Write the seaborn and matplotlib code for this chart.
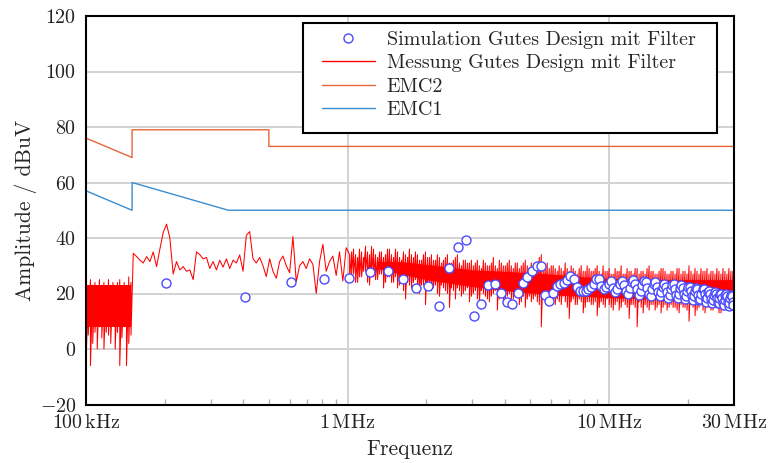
import numpy as np
import matplotlib
matplotlib.use("Agg")
import matplotlib.pyplot as plt
import seaborn as sns
from matplotlib.lines import Line2D
from matplotlib.patches import Rectangle
from matplotlib.ticker import LogLocator, NullFormatter

# ---------------- data ----------------
# Limit lines (frequency in MHz, level in dBuV)
emc2_freq = [0.1, 0.15, 0.15, 0.5, 0.5, 30.0]
emc2_level = [76, 69, 79, 79, 73, 73]
emc1_freq = [0.1, 0.15, 0.15, 0.35, 30.0]
emc1_level = [57, 50, 60, 50, 50]

# Simulated spectrum at the switching harmonics (MHz, dBuV)
sim_freq = [
    0.203, 0.406, 0.609, 0.812, 1.015, 1.218, 1.421, 1.624, 1.827, 2.030,
    2.233, 2.436, 2.639, 2.842, 3.045, 3.248, 3.451, 3.654, 3.857, 4.060,
    4.263, 4.466, 4.669, 4.872, 5.075, 5.278, 5.481, 5.684, 5.887, 6.090,
    6.293, 6.496, 6.699, 6.902, 7.105, 7.308, 7.511, 7.714, 7.917, 8.120,
    8.323, 8.526, 8.729, 8.932, 9.135, 9.338, 9.541, 9.744, 9.947, 10.150,
    10.353, 10.556, 10.759, 10.962, 11.165, 11.368, 11.571, 11.774, 11.977, 12.180,
    12.383, 12.586, 12.789, 12.992, 13.195, 13.398, 13.601, 13.804, 14.007, 14.210,
    14.413, 14.616, 14.819, 15.022, 15.225, 15.428, 15.631, 15.834, 16.037, 16.240,
    16.443, 16.646, 16.849, 17.052, 17.255, 17.458, 17.661, 17.864, 18.067, 18.270,
    18.473, 18.676, 18.879, 19.082, 19.285, 19.488, 19.691, 19.894, 20.097, 20.300,
    20.503, 20.706, 20.909, 21.112, 21.315, 21.518, 21.721, 21.924, 22.127, 22.330,
    22.533, 22.736, 22.939, 23.142, 23.345, 23.548, 23.751, 23.954, 24.157, 24.360,
    24.563, 24.766, 24.969, 25.172, 25.375, 25.578, 25.781, 25.984, 26.187, 26.390,
    26.593, 26.796, 26.999, 27.202, 27.405, 27.608, 27.811, 28.014, 28.217, 28.420,
    28.623, 28.826, 29.029, 29.232, 29.435, 29.638, 29.841,
]
sim_level = [
    23.9, 18.7, 24.0, 25.1, 25.7, 27.7, 28.2, 25.2, 22.1, 22.6,
    15.5, 29.1, 36.6, 39.2, 12.0, 16.1, 23.2, 23.4, 20.3, 16.9,
    16.1, 20.3, 23.7, 25.8, 28.0, 30.0, 30.0, 19.3, 17.4, 20.1,
    22.7, 23.4, 23.7, 24.9, 26.4, 25.3, 22.5, 20.8, 20.8, 21.0,
    21.5, 22.5, 23.4, 25.1, 25.1, 22.7, 21.5, 22.5, 23.5, 24.5,
    22.0, 20.5, 21.5, 23.5, 24.5, 23.0, 21.0, 20.0, 22.0, 24.0,
    25.0, 23.5, 21.5, 19.5, 21.0, 23.0, 24.5, 24.0, 22.0, 20.0,
    19.0, 21.5, 23.5, 24.0, 22.5, 20.5, 19.0, 20.5, 22.5, 23.5,
    22.5, 20.5, 18.5, 19.5, 21.5, 23.0, 23.5, 21.5, 19.5, 18.5,
    20.0, 22.0, 23.0, 22.0, 20.0, 18.0, 19.0, 21.0, 22.5, 22.5,
    21.0, 19.0, 17.5, 19.0, 21.0, 22.0, 21.5, 19.5, 17.5, 18.0,
    20.0, 21.5, 21.5, 20.0, 18.0, 17.0, 18.5, 20.5, 21.0, 20.0,
    18.0, 16.5, 17.5, 19.5, 20.5, 20.0, 18.5, 16.5, 16.5, 18.5,
    20.0, 20.0, 18.5, 16.5, 16.0, 17.5, 19.5, 20.0, 19.0, 17.0,
    15.5, 16.5, 18.5, 19.5, 19.0, 17.0, 16.0,
]

# Measured spectrum, low band below 150 kHz: peak / trough per sweep bin
meas_low_freq = [0.1000, 0.1020, 0.1040, 0.1061, 0.1082, 0.1104, 0.1126, 0.1149,
                 0.1171, 0.1195, 0.1219, 0.1243, 0.1268, 0.1293, 0.1319, 0.1346,
                 0.1372, 0.1400, 0.1428, 0.1457, 0.1486]
meas_low_hi = [24, 22, 25, 23, 24, 21, 25, 23, 24, 22, 25, 23, 24, 21, 24, 25,
               22, 24, 23, 26, 24]
meas_low_lo = [-6, 5, -6, 2, 6, 0, 8, 4, 0, 6, 5, 2, 10, 0, 6, -6, 4, 8, -6, 2, 5]

# Measured spectrum 150 kHz .. 1 MHz (single trace)
meas_mid_freq = [
    0.1516, 0.1561, 0.1608, 0.1655, 0.1705, 0.1755, 0.1807, 0.1861, 0.1916, 0.1973,
    0.2032, 0.2092, 0.2154, 0.2218, 0.2284, 0.2352, 0.2422, 0.2494, 0.2568, 0.2644,
    0.2723, 0.2804, 0.2887, 0.2973, 0.3061, 0.3152, 0.3246, 0.3342, 0.3441, 0.3544,
    0.3649, 0.3757, 0.3869, 0.3984, 0.4102, 0.4224, 0.4350, 0.4479, 0.4612, 0.4749,
    0.4890, 0.5035, 0.5185, 0.5339, 0.5498, 0.5661, 0.5829, 0.6003, 0.6181, 0.6365,
    0.6554, 0.6749, 0.6949, 0.7156, 0.7369, 0.7588, 0.7813, 0.8045, 0.8284, 0.8530,
    0.8784, 0.9045, 0.9314, 0.9590, 0.9876,
]
meas_mid_level = [
    34.5, 33.3, 32.0, 31.0, 33.3, 31.5, 35.0, 29.7, 36.0, 42.0,
    45.0, 40.0, 27.0, 31.5, 28.5, 29.7, 28.0, 28.5, 25.0, 35.0,
    34.0, 32.5, 33.0, 29.0, 31.5, 28.5, 32.0, 29.5, 32.5, 29.0,
    32.0, 31.0, 33.9, 28.0, 41.0, 42.3, 32.5, 31.0, 33.0, 30.0,
    26.1, 32.5, 28.0, 25.5, 31.5, 33.5, 30.0, 27.5, 40.5, 24.3,
    30.0, 31.5, 29.0, 32.5, 30.5, 20.0, 31.5, 37.7, 28.0, 31.5,
    33.5, 26.5, 35.0, 24.5, 36.5,
]

# Measured spectrum 1 MHz .. 30 MHz: peak / trough per sweep bin (first pass)
meas_high_freq = [
    1.018, 1.054, 1.092, 1.131, 1.171, 1.213, 1.257, 1.302, 1.348, 1.396,
    1.446, 1.498, 1.552, 1.607, 1.665, 1.724, 1.786, 1.850, 1.916, 1.985,
    2.056, 2.129, 2.205, 2.284, 2.366, 2.451, 2.538, 2.629, 2.723, 2.821,
    2.922, 3.026, 3.134, 3.247, 3.363, 3.483, 3.608, 3.737, 3.870, 4.009,
    4.152, 4.301, 4.455, 4.614, 4.779, 4.950, 5.127, 5.311, 5.501, 5.697,
    5.901, 6.112, 6.331, 6.558, 6.792, 7.035, 7.287, 7.548, 7.818, 8.097,
    8.387, 8.687, 8.998, 9.320, 9.653, 9.999, 10.357, 10.727, 11.111, 11.509,
    11.920, 12.347, 12.789, 13.246, 13.720, 14.211, 14.719, 15.246, 15.791, 16.356,
    16.941, 17.547, 18.175, 18.825, 19.498, 20.195, 20.918, 21.666, 22.441, 23.244,
    24.075, 24.936, 25.828, 26.752, 27.709, 28.700, 29.727,
]
meas_high_hi = [
    34, 36, 33, 35, 37, 34, 36, 33, 35, 34,
    36, 33, 35, 32, 34, 36, 33, 34, 32, 35,
    33, 32, 34, 31, 33, 31, 32, 34, 30, 32,
    31, 30, 32, 29, 31, 30, 33, 29, 31, 30,
    32, 29, 31, 30, 32, 29, 30, 31, 34, 30,
    29, 30, 28, 29, 31, 28, 29, 27, 30, 28,
    29, 28, 30, 27, 28, 29, 27, 28, 30, 27,
    28, 27, 29, 28, 27, 30, 28, 27, 29, 28,
    27, 28, 29, 27, 28, 30, 27, 28, 29, 28,
    27, 28, 29, 27, 28, 29, 28,
]
meas_high_lo = [
    25, 27, 24, 26, 28, 23, 26, 25, 27, 24,
    26, 24, 22, 25, 18, 23, 24, 21, 23, 16,
    22, 22, 20, 23, 21, 15, 21, 22, 19, 21,
    17, 20, 18, 21, 19, 17, 20, 14, 19, 18,
    20, 18, 19, 17, 15, 19, 18, 17, 8, 18,
    16, 17, 18, 16, 17, 11, 18, 16, 17, 15,
    17, 16, 12, 17, 15, 16, 14, 17, 15, 16,
    11, 16, 8, 15, 16, 14, 16, 15, 13, 16,
    15, 15, 14, 16, 15, 10, 15, 14, 16, 13,
    15, 14, 15, 13, 15, 14, 15,
]

# Measured spectrum 1 MHz .. 30 MHz: bins in between (second pass)
meas_high2_freq = [
    1.036, 1.073, 1.111, 1.151, 1.192, 1.235, 1.279, 1.325, 1.372, 1.421,
    1.472, 1.525, 1.580, 1.636, 1.695, 1.755, 1.818, 1.883, 1.950, 2.020,
    2.092, 2.167, 2.244, 2.325, 2.408, 2.494, 2.583, 2.676, 2.771, 2.871,
    2.974, 3.080, 3.190, 3.305, 3.423, 3.545, 3.672, 3.803, 3.939, 4.080,
    4.226, 4.377, 4.534, 4.696, 4.864, 5.038, 5.218, 5.405, 5.599, 5.798,
    6.006, 6.220, 6.443, 6.674, 6.913, 7.160, 7.416, 7.682, 7.957, 8.241,
    8.536, 8.841, 9.158, 9.485, 9.824, 10.176, 10.541, 10.917, 11.308, 11.713,
    12.131, 12.566, 13.016, 13.481, 13.963, 14.463, 14.980, 15.516, 16.071, 16.646,
    17.242, 17.858, 18.497, 19.159, 19.844, 20.553, 21.289, 22.050, 22.839, 23.656,
    24.502, 25.378, 26.286, 27.227, 28.200, 29.209,
]
meas_high2_hi = [
    35, 34, 36, 33, 35, 37, 34, 35, 33, 36,
    34, 36, 33, 35, 33, 34, 35, 32, 34, 33,
    34, 32, 33, 32, 34, 31, 33, 31, 32, 31,
    32, 31, 30, 32, 30, 31, 30, 32, 30, 31,
    30, 31, 29, 31, 30, 31, 29, 33, 30, 31,
    30, 29, 30, 28, 29, 30, 28, 29, 28, 30,
    28, 29, 28, 30, 28, 27, 29, 28, 27, 29,
    28, 29, 27, 28, 29, 28, 27, 28, 29, 27,
    28, 27, 29, 28, 27, 28, 29, 27, 28, 29,
    28, 27, 28, 29, 27, 28,
]
meas_high2_lo = [
    27, 24, 26, 28, 24, 27, 25, 27, 22, 26,
    24, 26, 23, 21, 24, 22, 25, 20, 23, 22,
    21, 23, 19, 22, 20, 22, 18, 21, 20, 22,
    19, 21, 17, 20, 18, 19, 21, 18, 17, 19,
    18, 20, 16, 19, 18, 17, 19, 16, 18, 17,
    18, 16, 17, 19, 15, 17, 16, 18, 13, 17,
    16, 17, 15, 16, 18, 15, 16, 14, 17, 15,
    16, 15, 17, 13, 15, 16, 14, 16, 15, 14,
    16, 15, 13, 15, 14, 16, 12, 15, 14, 15,
    14, 15, 13, 14, 15, 14,
]

# Densely occupied part of the measured trace (solid red region)
meas_core_freq = [0.1, 0.1486, None, 1.3, 1.6, 2.0, 3.0, 4.0, 6.0, 8.0, 10.0,
                  15.0, 20.0, 29.727]
meas_core_hi = [23, 23, None, 31.5, 31.5, 30.5, 28.5, 28, 27, 26, 25.5, 25, 25, 25]
meas_core_lo = [8, 8, None, 29, 27, 25, 22.5, 21, 19.5, 19, 18.5, 18, 17.5, 17]

LABELS = ["Simulation Gutes Design mit Filter", "Messung Gutes Design mit Filter",
          "EMC2", "EMC1"]
TICK_FREQ = [0.1, 1, 10, 30]
TICK_TEXT = [r"$100\,\mathrm{kHz}$", r"$1\,\mathrm{MHz}$", r"$10\,\mathrm{MHz}$",
             r"$30\,\mathrm{MHz}$"]

# ---------------- style ----------------
sns.set_theme(style="white")
plt.rcParams.update({
    "font.family": "serif",
    "font.serif": ["cmr10"],
    "mathtext.fontset": "cm",
    "axes.formatter.use_mathtext": True,
    "axes.unicode_minus": True,
})

C_MEAS = "#ff0000"
C_SIM = "#4a4aff"
C_EMC2 = "#e6643c"
C_EMC1 = "#3c8dcf"
FS = 14.4
FS_LABEL = 15.5

fig = plt.figure(figsize=(7.69, 4.63), dpi=100)
ax = fig.add_axes([86 / 769, 1 - 404.5 / 463, 648 / 769, 388.5 / 463])


def zigzag(freq, hi, lo):
    f = np.repeat(np.asarray(freq, float), 2)
    v = np.column_stack([hi, lo]).ravel().astype(float)
    return f, v


# merge both passes of the upper band in frequency order
hf = np.concatenate([meas_high_freq, meas_high2_freq])
order = np.argsort(hf)
hh = np.concatenate([meas_high_hi, meas_high2_hi])[order]
hl = np.concatenate([meas_high_lo, meas_high2_lo])[order]
hf = hf[order]

fa, va = zigzag(meas_low_freq, meas_low_hi, meas_low_lo)
fc, vc = zigzag(hf, hh, hl)
meas_f = np.concatenate([fa, meas_mid_freq, fc])
meas_v = np.concatenate([va, meas_mid_level, vc])

# solid core of the measured trace, drawn per segment
gap = meas_core_freq.index(None)
for sl in (slice(0, gap), slice(gap + 1, None)):
    ax.fill_between(meas_core_freq[sl], meas_core_lo[sl], meas_core_hi[sl],
                    color=C_MEAS, lw=0, zorder=2)
sns.lineplot(x=meas_f, y=meas_v, sort=False, estimator=None, color=C_MEAS,
             lw=0.75, ax=ax, zorder=2)

sns.lineplot(x=emc2_freq, y=emc2_level, sort=False, estimator=None, color=C_EMC2,
             lw=1.0, ax=ax, zorder=3)
sns.lineplot(x=emc1_freq, y=emc1_level, sort=False, estimator=None, color=C_EMC1,
             lw=1.0, ax=ax, zorder=3)

sns.scatterplot(x=sim_freq, y=sim_level, marker="o", s=42, facecolor="white",
                edgecolor=C_SIM, linewidth=1.0, ax=ax, zorder=4)

# ---------------- axes ----------------
ax.set_xscale("log")
ax.set_xlim(0.1, 30)
ax.set_ylim(-20, 120)
ax.set_yticks(range(-20, 121, 20))
ax.set_xticks(TICK_FREQ)
ax.set_xticklabels(TICK_TEXT)
ax.xaxis.set_minor_locator(LogLocator(base=10, subs=np.arange(2, 10)))
ax.xaxis.set_minor_formatter(NullFormatter())
ax.tick_params(axis="both", which="major", length=0, labelsize=FS, pad=7,
               colors="#222222")
ax.tick_params(axis="x", which="minor", direction="in", length=4, width=1,
               color="#b0b0b0", bottom=True, top=False)
ax.grid(True, which="major", color="#d2d2d2", lw=1.4)
ax.grid(False, which="minor")
ax.set_axisbelow(True)
for sp in ax.spines.values():
    sp.set_color("black")
    sp.set_linewidth(1.5)
    sp.set_zorder(6)

ax.set_xlabel("Frequenz", fontsize=FS_LABEL, labelpad=5)
ax.set_ylabel("Amplitude / dBuV", fontsize=FS_LABEL, labelpad=2)

# legend: frame drawn as its own box, entries placed inside it
box = Rectangle((0.335, 0.699), 0.974 - 0.335, 0.982 - 0.699, transform=ax.transAxes,
                facecolor="white", edgecolor="black", lw=1.5, zorder=7)
ax.add_patch(box)
handles = [
    Line2D([], [], ls="none", marker="o", ms=6.5, mfc="white", mec=C_SIM, mew=1.0),
    Line2D([], [], color=C_MEAS, lw=1.0),
    Line2D([], [], color=C_EMC2, lw=1.0),
    Line2D([], [], color=C_EMC1, lw=1.0),
]
leg = ax.legend(handles, LABELS, loc="upper left", bbox_to_anchor=(0.364, 0.962),
                fontsize=FS, frameon=False, handlelength=2.65, handletextpad=0.6,
                labelspacing=0.27, borderpad=0, borderaxespad=0)
leg.set_zorder(8)

fig.savefig("out.png", dpi=100)
